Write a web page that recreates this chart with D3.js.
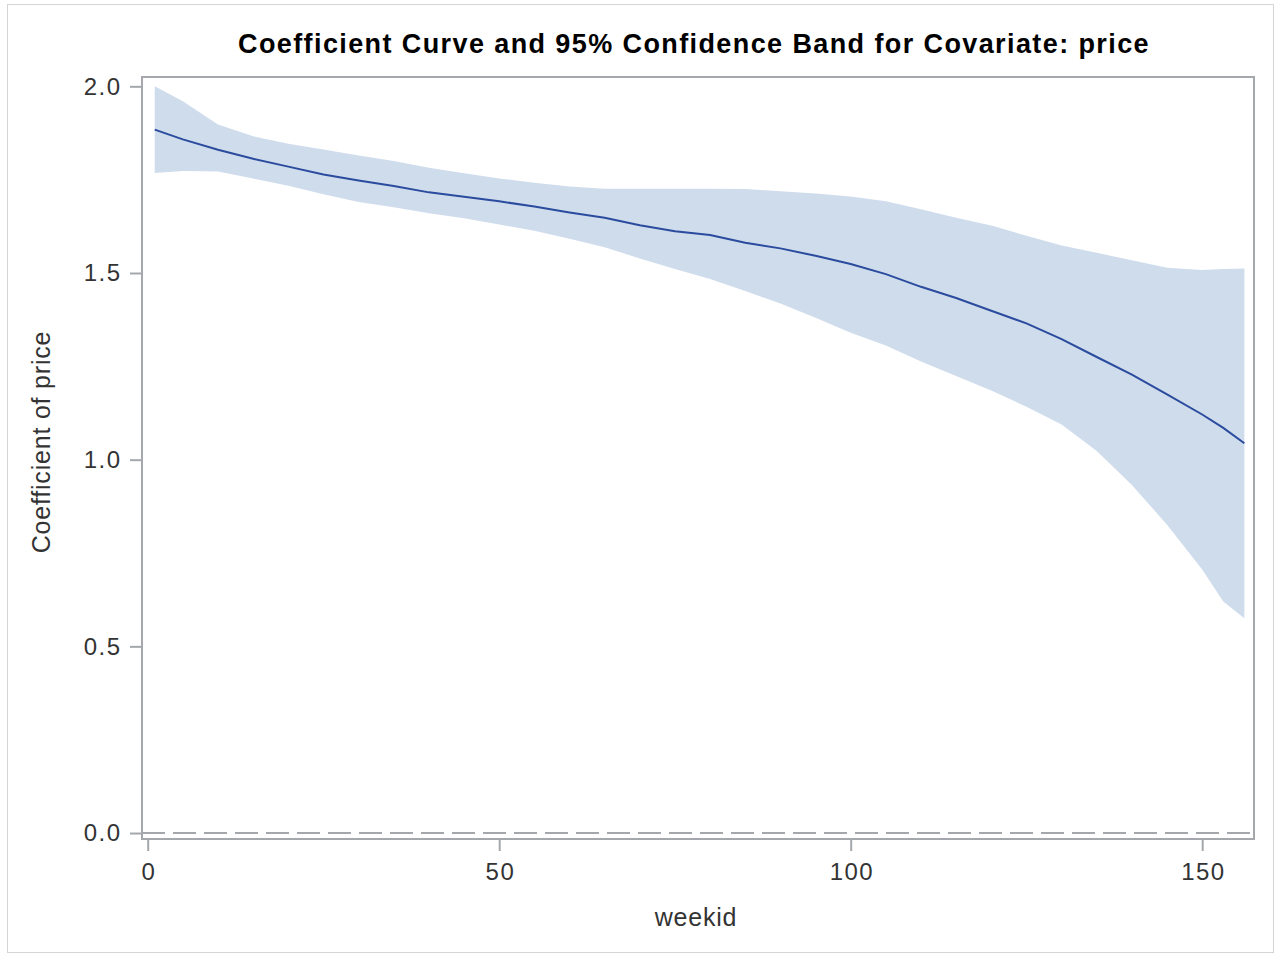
<!DOCTYPE html>
<html>
<head>
<meta charset="utf-8">
<script src="https://cdn.jsdelivr.net/npm/d3@7"></script>
<style>
  body { margin: 0; background: #fff; }
  text { font-family: "Liberation Sans", Arial, sans-serif; }
</style>
</head>
<body>
<div id="chart"></div>
<script>
var W = 1275,
	H = 954;

var weeks = [1, 5, 10, 15, 20, 25, 30, 35, 40, 45, 50, 55, 60, 65, 70, 75, 80, 85,
	90, 95, 100, 105, 110, 115, 120, 125, 130, 135, 140, 145, 150, 153, 156];

// coefficient estimate
var coef = [1.884, 1.858, 1.830, 1.806, 1.785, 1.764, 1.748, 1.733, 1.716, 1.704, 1.692,
	1.678, 1.662, 1.648, 1.628, 1.612, 1.602, 1.581, 1.566, 1.546, 1.524, 1.497, 1.463,
	1.433, 1.399, 1.365, 1.323, 1.275, 1.228, 1.175, 1.121, 1.085, 1.044];

// 95% band
var upper = [2.000, 1.960, 1.898, 1.866, 1.846, 1.831, 1.815, 1.800, 1.782, 1.767, 1.753,
	1.742, 1.732, 1.726, 1.726, 1.726, 1.726, 1.725, 1.719, 1.713, 1.705, 1.692, 1.671,
	1.648, 1.627, 1.600, 1.574, 1.554, 1.534, 1.514, 1.508, 1.511, 1.512];
var lower = [1.768, 1.773, 1.772, 1.753, 1.734, 1.711, 1.690, 1.676, 1.660, 1.647, 1.630,
	1.613, 1.592, 1.569, 1.539, 1.511, 1.484, 1.452, 1.418, 1.380, 1.340, 1.306, 1.263,
	1.224, 1.185, 1.142, 1.094, 1.023, 0.932, 0.826, 0.706, 0.620, 0.575];

var xTicks = [0, 50, 100, 150];
var yTicks = [0.0, 0.5, 1.0, 1.5, 2.0];

var m = {left: 142, top: 77, right: 21, bottom: 115};
var pw = W - m.left - m.right,
	ph = H - m.top - m.bottom;

var rows = weeks.map(function(wk, i){
	return {wk: wk, c: coef[i], lo: lower[i], hi: upper[i]};
});

var x = d3.scaleLinear().domain([-0.81, 157.37]).range([0, pw]);
var y = d3.scaleLinear().domain([-0.016, 2.025]).range([ph, 0]);

var svg = d3.select("#chart").append("svg")
	.attr("width", W)
	.attr("height", H);

// outer border
svg.append("rect")
	.attr("x", 7.5).attr("y", 4.5)
	.attr("width", W - 9).attr("height", H - 6)
	.attr("fill", "none")
	.attr("stroke", "#d4d4d4");

svg.append("text")
	.attr("x", 694)
	.attr("y", 53)
	.attr("text-anchor", "middle")
	.attr("font-size", "27px")
	.attr("font-weight", "bold")
	.attr("letter-spacing", "1.4px")
	.attr("fill", "#000")
	.text("Coefficient Curve and 95% Confidence Band for Covariate: price");

var g = svg.append("g")
	.attr("transform", "translate(" + m.left + "," + m.top + ")");

// band
g.append("path")
	.datum(rows)
	.attr("fill", "#cfdcec")
	.attr("d", d3.area()
		.x(function(d){ return x(d.wk); })
		.y0(function(d){ return y(d.lo); })
		.y1(function(d){ return y(d.hi); }));

// zero reference
g.append("line")
	.attr("x1", 0).attr("x2", pw)
	.attr("y1", y(0)).attr("y2", y(0))
	.attr("stroke", "#a4a8ac")
	.attr("stroke-width", 2)
	.attr("stroke-dasharray", "23,8");

// curve
g.append("path")
	.datum(rows)
	.attr("fill", "none")
	.attr("stroke", "#2a4b9e")
	.attr("stroke-width", 2)
	.attr("d", d3.line()
		.x(function(d){ return x(d.wk); })
		.y(function(d){ return y(d.c); }));

// frame
g.append("rect")
	.attr("x", 0).attr("y", 0)
	.attr("width", pw).attr("height", ph)
	.attr("fill", "none")
	.attr("stroke", "#a4a8ac")
	.attr("stroke-width", 2);

var xAxis = g.append("g")
	.attr("transform", "translate(0," + (ph + 1) + ")")
	.call(d3.axisBottom(x).tickValues(xTicks).tickSize(11).tickPadding(12)
		.tickFormat(d3.format("d")));
xAxis.select(".domain").remove();
xAxis.selectAll("line").attr("stroke", "#a4a8ac").attr("stroke-width", 2);
xAxis.selectAll("text").attr("font-size", "24px").attr("fill", "#333")
	.attr("letter-spacing", "1.5px").attr("dx", "0.75")
	.attr("font-family", "'Liberation Sans', Arial, sans-serif");

var yAxis = g.append("g")
	.attr("transform", "translate(-1,0)")
	.call(d3.axisLeft(y).tickValues(yTicks).tickSize(11).tickPadding(10)
		.tickFormat(d3.format(".1f")));
yAxis.select(".domain").remove();
yAxis.selectAll("line").attr("stroke", "#a4a8ac").attr("stroke-width", 2);
yAxis.selectAll("text").attr("font-size", "24px").attr("fill", "#333")
	.attr("letter-spacing", "1.5px").attr("dx", "1.5")
	.attr("font-family", "'Liberation Sans', Arial, sans-serif");

// axis titles
svg.append("text")
	.attr("x", 696)
	.attr("y", 926)
	.attr("text-anchor", "middle")
	.attr("font-size", "25px")
	.attr("letter-spacing", "0.8px")
	.attr("fill", "#333")
	.text("weekid");

svg.append("text")
	.attr("transform", "translate(50,442) rotate(-90)")
	.attr("text-anchor", "middle")
	.attr("font-size", "25px")
	.attr("letter-spacing", "0.8px")
	.attr("fill", "#333")
	.text("Coefficient of price");
</script>
</body>
</html>
